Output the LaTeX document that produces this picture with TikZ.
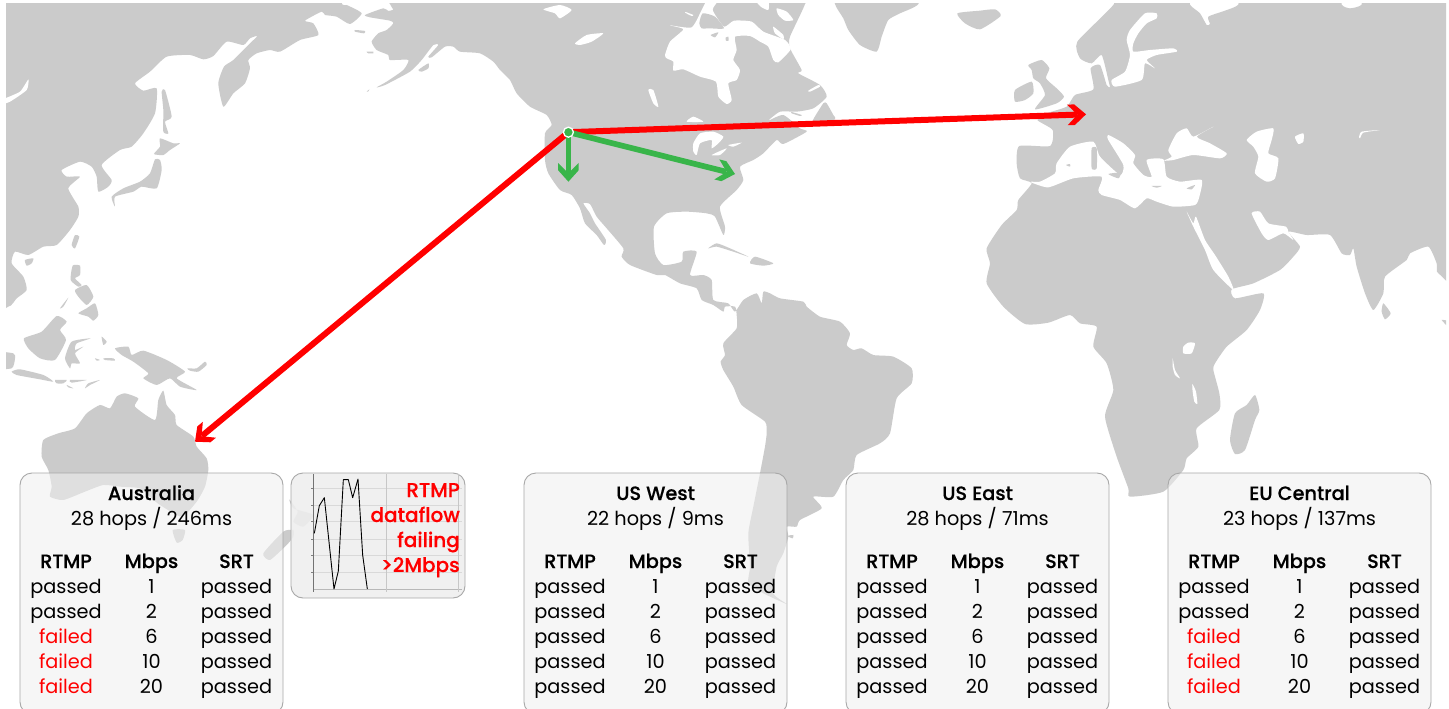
\documentclass[tikz,border=0pt]{standalone}
\usepackage{fontspec}
\setmainfont{Poppins}
\newfontfamily\medfont[FakeBold=0.35]{Poppins Medium}
\usetikzlibrary{arrows.meta}
\definecolor{landgray}{HTML}{CBCBCB}
\definecolor{panelgray}{HTML}{F0F0F0}
\definecolor{chartgray}{HTML}{EEEEEE}
\definecolor{panelborder}{HTML}{A8A8A8}
\definecolor{routegreen}{HTML}{39B54A}
\pgfdeclarearrow{name=Chevron,
  setup code={\pgfarrowssettipend{0pt}\pgfarrowssetlineend{-9pt}\pgfarrowssetbackend{-18.7pt}\pgfarrowssetvisualbackend{-9pt}%
    \pgfarrowshullpoint{0pt}{0pt}\pgfarrowshullpoint{-18.7pt}{10.3pt}\pgfarrowshullpoint{-18.7pt}{-10.3pt}},
  drawing code={\pgfpathmoveto{\pgfqpoint{0pt}{0pt}}%
    \pgfpathlineto{\pgfqpoint{-11.5pt}{10.3pt}}\pgfpathlineto{\pgfqpoint{-18.7pt}{10.3pt}}%
    \pgfpathlineto{\pgfqpoint{-8.5pt}{0pt}}%
    \pgfpathlineto{\pgfqpoint{-18.7pt}{-10.3pt}}\pgfpathlineto{\pgfqpoint{-11.5pt}{-10.3pt}}%
    \pgfpathclose\pgfusepathqfill}}
\tikzset{
  land/.style={fill=landgray},
  water/.style={fill=white},
  statbox/.style={draw=panelborder,line width=0.9pt,rounded corners=12pt,fill=panelgray,fill opacity=.55},
  chartbox/.style={draw=panelborder,line width=0.9pt,rounded corners=12pt,fill=chartgray,fill opacity=.88},
  cell/.style={inner sep=0pt,anchor=base,font=\fontsize{19.3}{22}\selectfont},
  head/.style={cell,font=\fontsize{19.3}{22}\selectfont\medfont},
  passed text/.style={text=black},
  failed text/.style={text=red},
  note/.style={inner sep=0pt,anchor=base east,text=red,font=\fontsize{20}{22}\selectfont\medfont},
  redroute/.style={draw=red,line width=6pt,-{Chevron}},
  greenroute/.style={draw=routegreen,line width=5.7pt,-{Chevron}},
  zoomA/.style={x=0.33333pt,y=-0.33333pt},
  zoomB/.style={x=0.33333pt,y=-0.33333pt,xshift=960pt}
}
\newcommand{\lnd}[1]{\fill[land] plot[smooth cycle,tension=.35] coordinates {#1};}
\newcommand{\wtr}[1]{\fill[water] plot[smooth cycle,tension=.35] coordinates {#1};}
\newcommand{\statpanel}[5]{%
  \begin{scope}[xshift=#2pt]
    \draw[statbox] (0,473) rectangle (263,714);
    \node[head] (#1title) at (131.5,500) {#3};
    \node[cell] (#1hops) at (131.5,525.3) {#4};
    \node[head] (#1rtmp) at (46,568) {RTMP};
    \node[head] (#1mbps) at (131.5,568) {Mbps};
    \node[head] (#1srt) at (216.5,568) {SRT};
    \foreach \rt/\mb [count=\i] in {#5} {
      \pgfmathsetmacro{\yy}{568+25*\i}
      \node[cell,\rt\space text] (#1a\i) at (46,\yy) {\rt};
      \node[cell] (#1b\i) at (131.5,\yy) {\mb};
      \node[cell] (#1c\i) at (216.5,\yy) {passed};
    }
  \end{scope}}
\begin{document}
\begin{tikzpicture}[x=1pt,y=-1pt]
\useasboundingbox (0,0) rectangle (1449,709);
\clip (0,0) rectangle (1449,709);
\fill[white] (0,0) rectangle (1449,709);
\begin{scope}
\clip (6,4) rectangle (1446,709);
% ---------- Pacific side, Asia and Oceania
\begin{scope}[zoomA]
\lnd{(-60,-60) (1010,-60) (1025,12) (1040,15) (1085,40) (1050,72) (1010,50) (975,45) (965,35) (915,62) (940,70) (955,105) (900,120) (840,155) (810,150) (770,160) (745,180) (750,205) (735,250) (700,280) (670,320) (655,250) (672,200) (700,180) (745,135) (772,108) (750,115) (730,135) (680,125) (640,168) (610,178) (570,165) (500,170) (450,215) (405,250) (430,272) (470,265) (465,340) (430,400) (395,440) (360,450) (305,495) (335,540) (325,560) (295,575) (290,530) (275,500) (240,485) (185,510) (200,530) (240,530) (205,565) (235,620) (235,650) (210,690) (170,735) (130,740) (85,765) (45,755) (35,790) (70,830) (80,870) (50,895) (25,920) (-60,905)}
\wtr{(85,238) (80,270) (30,305) (5,312) (5,300) (60,275)}
% Sakhalin, Japan
\lnd{(485,275) (495,270) (515,350) (495,365) (505,400) (490,395) (490,330)}
\lnd{(480,415) (520,430) (540,430) (510,450) (490,465) (462,462) (480,440)}
\lnd{(465,478) (480,480) (485,510) (470,565) (425,560) (400,575) (345,590) (345,620) (335,590) (370,565) (420,545) (450,520)}
% Taiwan, Hainan, Philippines
\lnd{(225,705) (238,710) (225,745) (215,735)}
\lnd{(75,780) (100,775) (95,790) (80,797)}
\lnd{(218,797) (240,797) (240,825) (225,835) (245,855) (235,860) (212,840)}
\lnd{(225,870) (260,855) (280,890) (260,915) (235,890)}
\lnd{(235,940) (260,925) (285,910) (295,945) (280,962) (265,950)}
\lnd{(180,925) (205,893) (190,920)}
% Indonesia
\lnd{(72,1015) (125,995) (170,948) (200,965) (180,990) (198,1020) (165,1080) (120,1075) (85,1045)}
\lnd{(195,1075) (215,1025) (272,1015) (230,1030) (225,1050) (250,1040) (225,1060) (240,1090) (215,1090) (210,1105)}
\lnd{(305,1010) (320,1025) (310,1035)}
\lnd{(-30,1055) (40,1060) (45,1075) (35,1105) (-30,1105)}
\lnd{(35,1115) (60,1108) (130,1125) (160,1145) (120,1138) (50,1125)}
\lnd{(165,1140) (200,1140) (190,1150) (170,1150)}
\lnd{(210,1140) (260,1140) (215,1148)}
\lnd{(255,1165) (265,1150) (300,1140) (270,1155)}
\lnd{(200,1155) (220,1165) (205,1162)}
\lnd{(285,1075) (300,1080) (290,1082)}
\lnd{(310,1075) (340,1075) (345,1082) (315,1080)}
\lnd{(345,1045) (385,1040) (395,1065) (430,1052) (500,1080) (555,1115) (530,1135) (590,1170) (540,1160) (510,1135) (470,1155) (430,1135) (445,1120) (400,1085) (365,1065)}
\lnd{(562,1105) (590,1105) (615,1085) (620,1095) (595,1115) (570,1112)}
% Australia, Tasmania, New Zealand
\lnd{(130,1320) (175,1300) (225,1285) (260,1240) (300,1215) (330,1225) (350,1190) (375,1180) (415,1195) (405,1220) (465,1260) (475,1200) (490,1172) (500,1215) (525,1245) (530,1275) (580,1310) (590,1340) (620,1375) (625,1410) (615,1460) (590,1505) (545,1550) (480,1515) (455,1495) (420,1465) (360,1460) (310,1455) (255,1475) (190,1500) (150,1490) (155,1460) (145,1410) (125,1370)}
\lnd{(518,1590) (555,1590) (548,1620) (530,1628)}
\lnd{(868,1498) (880,1525) (940,1545) (910,1580) (880,1565) (893,1535)}
\lnd{(880,1590) (850,1595) (790,1660) (810,1680) (860,1635) (880,1610)}
% ---------- The Americas
\lnd{(1165,-60) (1170,12) (1180,28) (1165,33) (1150,25) (1095,45) (1110,52) (1170,62) (1180,70) (1160,90) (1135,100) (1115,125) (1130,150) (1165,165) (1170,180) (1225,180) (1210,210) (1160,245) (1130,262) (1155,255) (1230,215) (1265,180) (1300,135) (1315,135) (1285,170) (1295,172) (1335,140) (1360,140) (1380,155) (1440,160) (1480,185) (1500,210) (1530,240) (1550,280) (1590,320) (1640,345) (1655,375) (1635,400) (1635,480) (1645,520) (1680,570) (1715,585) (1740,625) (1755,670) (1790,705) (1812,735) (1818,720) (1785,670) (1770,640) (1750,610) (1770,612) (1790,650) (1820,685) (1870,745) (1865,770) (1890,795) (1970,825) (1995,825) (2040,850) (2090,865) (2105,900) (2140,915) (2170,935) (2175,920) (2205,920) (2210,945) (2210,985) (2170,1030) (2175,1065) (2162,1085) (2170,1110) (2200,1160) (2225,1215) (2295,1265) (2300,1300) (2295,1340) (2280,1420) (2260,1520) (2245,1600) (2250,1700) (2245,1750) (2290,1780) (2360,1812) (2320,1780) (2330,1700) (2350,1660) (2365,1610) (2360,1580) (2390,1580) (2400,1560) (2465,1525) (2440,1490) (2500,1490) (2530,1440) (2560,1410) (2570,1365) (2640,1330) (2670,1300) (2690,1195) (2735,1150) (2735,1105) (2680,1070) (2620,1065) (2585,1045) (2560,1050) (2540,1035) (2550,1000) (2520,965) (2460,950) (2420,920) (2410,905) (2340,895) (2310,880) (2290,875) (2285,910) (2270,880) (2230,900) (2205,935) (2185,910) (2140,900) (2135,840) (2110,825) (2070,825) (2090,755) (2050,755) (2045,785) (1990,795) (1965,760) (1962,680) (2000,640) (2060,635) (2120,640) (2145,650) (2170,705) (2175,680) (2160,620) (2210,570) (2230,540) (2220,500) (2260,480) (2290,460) (2330,420) (2350,432) (2420,395) (2400,385) (2350,345) (2305,362) (2340,335) (2390,335) (2440,325) (2480,290) (2460,255) (2395,220) (2405,210) (2370,145) (2370,110) (2415,12) (2425,-60)}
\lnd{(1255,210) (1285,190) (1285,205) (1265,215)}
\lnd{(1065,90) (1095,93) (1092,100) (1065,95)}
\lnd{(1100,155) (1120,155) (1120,160) (1105,160)}
\lnd{(1100,275) (1108,268) (1104,275)}
\lnd{(2362,1608) (2380,1605) (2378,1615)}
\begin{scope}[xshift=480pt]
% Greenland, Newfoundland, Caribbean
\lnd{(1062,-60) (1065,12) (1090,55) (1105,90) (1140,135) (1190,155) (1205,110) (1225,60) (1260,40) (1315,12) (1320,-60)}
\lnd{(1000,358) (1030,310) (1040,310) (1060,345) (1065,358) (1000,375)}
\lnd{(685,745) (710,730) (750,745) (805,770) (760,755) (710,740)}
\lnd{(810,790) (825,770) (880,790) (850,797)}
% lakes
\wtr{(190,28) (240,15) (275,30) (240,55) (225,40)}
\wtr{(285,130) (320,105) (370,100) (335,125) (300,135)}
\wtr{(505,270) (520,270) (535,320) (520,310)}
\wtr{(620,365) (640,350) (670,365)}
\wtr{(640,430) (660,400) (700,395) (730,410) (715,430) (695,445) (695,420) (660,430) (650,465) (640,455)}
\wtr{(695,465) (740,445) (720,465)}
\wtr{(745,435) (785,428) (760,440)}
\end{scope}
% Hudson Bay, strait and arctic water
\begin{scope}[xshift=620pt]
\wtr{(135,165) (150,125) (190,88) (150,76) (215,82) (245,30) (262,0) (295,0) (278,30) (312,80) (342,62) (395,65) (430,95) (495,120) (512,148) (475,187) (460,180) (445,140) (420,125) (390,108) (345,110) (350,150) (340,180) (360,210) (350,240) (325,250) (335,300) (320,312) (295,290) (288,245) (240,230) (190,208) (160,212) (160,185) (140,175)}
\lnd{(248,40) (285,50) (312,85) (270,85) (245,85) (238,70)}
\lnd{(272,105) (295,97) (285,112)}
\lnd{(317,113) (325,110) (326,122) (318,122)}
\wtr{(197,36) (220,45) (215,48) (195,38)}
\wtr{(410,5) (445,5) (445,30) (425,22)}
\wtr{(470,25) (500,35) (520,60) (495,62) (475,45)}
\wtr{(460,80) (490,105) (490,118) (465,100)}
\wtr{(565,272) (595,255) (600,260) (570,275)}
\lnd{(515,336) (545,345) (540,348) (515,340)}
\end{scope}
\end{scope}
% ---------- Europe, Africa, Asia
\begin{scope}[zoomB]
\lnd{(455,-40) (680,-40) (690,14) (720,40) (740,75) (750,72) (745,50) (795,32) (835,14) (845,-40) (1135,-40) (1145,14) (1170,25) (1205,14) (1215,-40) (1520,-40) (1520,830) (1435,820) (1430,790) (1405,740) (1350,760) (1340,780) (1275,830) (1270,880) (1240,930) (1215,880) (1190,800) (1180,745) (1170,765) (1145,760) (1110,705) (1040,705) (985,695) (1020,740) (1000,770) (960,810) (880,850) (815,868) (825,895) (910,880) (900,930) (860,990) (800,1040) (765,1090) (760,1110) (778,1180) (778,1230) (710,1285) (715,1340) (680,1375) (670,1410) (610,1475) (510,1490) (505,1465) (470,1370) (435,1250) (460,1170) (440,1090) (400,1040) (410,980) (360,970) (330,945) (265,968) (195,972) (130,920) (80,850) (90,790) (80,745) (125,675) (170,630) (175,600) (215,550) (180,535) (170,490) (178,438) (270,438) (278,390) (232,360) (260,340) (320,320) (345,285) (400,268) (392,205) (420,195) (440,255) (450,262) (445,240) (425,165) (395,190) (360,175) (352,125) (462,12)}
% Baltic
\wtr{(500,120) (510,90) (555,40) (590,40) (590,55) (560,70) (535,100) (520,130) (520,155) (570,150) (640,145) (650,155) (590,165) (560,180) (585,205) (555,190) (545,240) (465,260) (455,240) (495,215) (510,165)}
% Mediterranean
\wtr{(215,545) (240,545) (285,520) (290,490) (330,440) (400,425) (420,470) (480,525) (490,495) (445,420) (445,405) (490,430) (525,465) (520,490) (550,525) (575,530) (560,480) (610,478) (620,530) (660,545) (725,540) (718,590) (705,615) (640,620) (590,605) (560,595) (525,625) (480,600) (425,585) (415,570) (425,530) (340,535) (265,562) (215,548)}
\lnd{(395,445) (410,445) (410,505) (395,505)}
\lnd{(445,522) (482,518) (475,535)}
\lnd{(575,558) (605,558) (590,563)}
\lnd{(680,565) (705,555) (695,568)}
\lnd{(318,495) (330,492) (330,500)}
% Black Sea, Caspian, Aral, Balkhash
\wtr{(625,450) (650,400) (680,385) (700,410) (760,380) (710,410) (750,430) (800,460) (780,475) (700,465) (640,480) (612,482) (635,470)}
\wtr{(860,420) (890,395) (940,385) (935,420) (925,460) (955,475) (945,535) (920,545) (885,520) (895,470) (880,440)}
\wtr{(1005,410) (1030,400) (1030,425) (1015,432)}
\wtr{(1197,412) (1205,395) (1260,390) (1210,398) (1200,415)}
% Red Sea, Persian Gulf, African lakes
\wtr{(680,635) (700,670) (708,650) (735,720) (765,765) (805,830) (820,870) (760,810) (735,750) (700,680)}
\wtr{(875,640) (900,635) (925,670) (978,680) (985,695) (1000,720) (970,700) (925,720) (905,700)}
\wtr{(670,1040) (685,1028) (705,1030) (695,1060) (670,1060)}
\wtr{(638,1075) (645,1110) (660,1135) (645,1125) (638,1100)}
\wtr{(697,1152) (708,1175) (712,1212) (703,1205) (698,1175)}
% Islands
\lnd{(885,1185) (898,1230) (885,1260) (855,1350) (825,1362) (810,1320) (825,1240) (860,1215)}
\lnd{(1270,910) (1292,940) (1275,958) (1265,935)}
\lnd{(1445,960) (1470,965) (1470,985)}
\lnd{(-8,40) (60,32) (105,28) (122,48) (60,88) (15,70)}
\lnd{(165,270) (215,245) (220,280) (195,300) (165,305)}
\lnd{(205,195) (245,180) (268,205) (258,235) (290,265) (312,290) (290,310) (225,328) (255,285) (240,250) (220,235) (215,210)}
\end{scope}
\end{scope}
% ---------- Routes
\node[circle,minimum size=11pt,inner sep=0pt] (src) at (568.4,132.2) {};
\coordinate (eu) at (1086,114.3);
\coordinate (au) at (195,441.7);
\coordinate (west) at (568.4,181.7);
\coordinate (east) at (735,174);
\draw[redroute] (src.center) -- (eu);
\draw[redroute] (src.center) -- (au);
\draw[greenroute] (src.center) -- (west);
\draw[greenroute] (src.center) -- (east);
\fill[routegreen,draw=white,line width=1.3pt] (src.center) circle (5pt);
% ---------- Panels
\statpanel{aus}{20}{Australia}{28 hops / 246ms}{passed/1,passed/2,failed/6,failed/10,failed/20}
\statpanel{usw}{524}{US West}{22 hops / 9ms}{passed/1,passed/2,passed/6,passed/10,passed/20}
\statpanel{use}{846}{US East}{28 hops / 71ms}{passed/1,passed/2,passed/6,passed/10,passed/20}
\statpanel{euc}{1168}{EU Central}{23 hops / 137ms}{passed/1,passed/2,failed/6,failed/10,failed/20}
% ---------- Chart
\draw[chartbox] (291,473) rectangle (465,598);
\begin{scope}[x=0.33333pt,y=-0.33333pt,xshift=285pt,yshift=-465pt]
\foreach \gy in {70,120,170,222,272,322} {
  \draw[black!15,line width=0.7pt] (85,\gy) -- (530,\gy);
  \draw[black!50,line width=0.5pt] (79,\gy) -- (85,\gy);}
\draw[black!28,line width=0.7pt] (85,372) -- (530,372);
\foreach \gx in {305,520} \draw[black!22,line width=0.7pt] (\gx,28) -- (\gx,380);
\draw[black!55,line width=0.7pt] (85,28) -- (85,380);
\draw[black,line width=0.9pt,line join=round] plot coordinates {(88,205) (103,122) (118,98) (147,372) (160,318) (175,44) (190,44) (203,98) (219,42) (233,270) (247,372)};
\end{scope}
\node[note] (n1) at (460,497) {RTMP};
\node[note] (n2) at (460,522) {dataflow};
\node[note] (n3) at (460,547) {failing};
\node[note] (n4) at (460,572) {>2Mbps};
\end{tikzpicture}
\end{document}
